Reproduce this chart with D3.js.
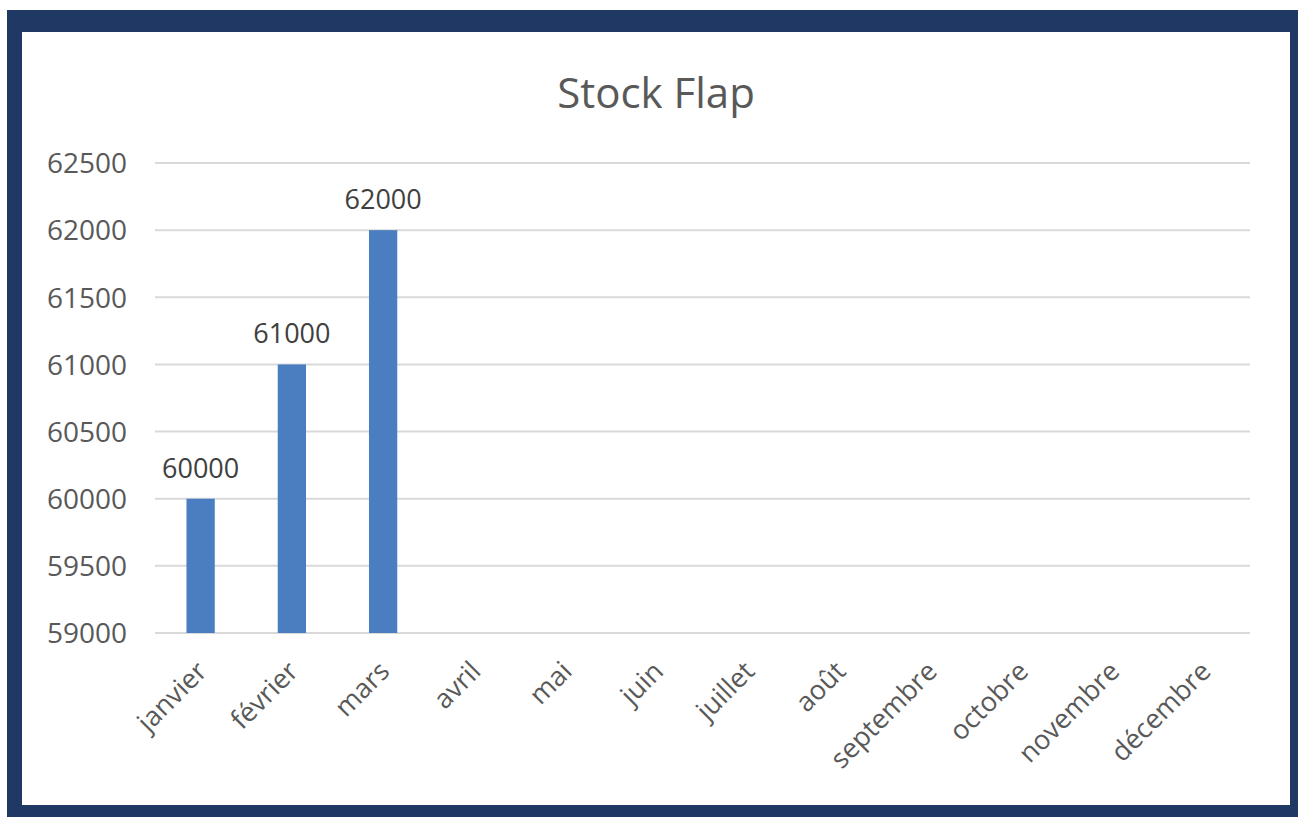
<!DOCTYPE html>
<html><head><meta charset="utf-8">
<script src="https://cdn.jsdelivr.net/npm/d3@7"></script>
<style>html,body{margin:0;padding:0;background:#fff;}svg{display:block;}</style>
</head><body>
<script>
const title = "Stock Flap";
const months = ["janvier","février","mars","avril","mai","juin","juillet","août","septembre","octobre","novembre","décembre"];
const stock = [60000, 61000, 62000, null, null, null, null, null, null, null, null, null];
const yTicks = [59000, 59500, 60000, 60500, 61000, 61500, 62000, 62500];

const W = 1298, H = 817;
const svg = d3.select("body").append("svg").attr("width", W).attr("height", H);
const font = "'Open Sans', sans-serif";

// navy frame
svg.append("rect").attr("x", 7).attr("y", 10).attr("width", W - 7).attr("height", H - 10).attr("fill", "#1f3864");
svg.append("rect").attr("x", 22).attr("y", 32).attr("width", 1268).attr("height", 773).attr("fill", "#ffffff");

const x = d3.scaleBand().domain(months).range([155, 1250]).paddingInner(0.69).paddingOuter(0.345);
const y = d3.scaleLinear().domain([59000, 62500]).range([633, 163]);

// gridlines
svg.append("g").selectAll("line").data(yTicks).join("line")
  .attr("x1", 155).attr("x2", 1250)
  .attr("y1", d => y(d)).attr("y2", d => y(d))
  .attr("stroke", "#d9d9d9").attr("stroke-width", 2);

// y axis labels
const yAxis = d3.axisLeft(y).tickValues(yTicks).tickSize(0).tickPadding(0).tickFormat(d3.format("d"));
const gy = svg.append("g").attr("transform", "translate(127,0)").call(yAxis);
gy.select(".domain").remove();
gy.selectAll("text").attr("font-family", font).attr("font-size", 28).attr("fill", "#595959").attr("dy", "0.35em");

// bars
const data = months.map((m, i) => ({m, v: stock[i]})).filter(d => d.v != null);
svg.append("g").selectAll("rect").data(data).join("rect")
  .attr("x", d => x(d.m)).attr("width", x.bandwidth())
  .attr("y", d => y(d.v)).attr("height", d => y(59000) - y(d.v))
  .attr("fill", "#4a7ec1");

// data labels
svg.append("g").selectAll("text").data(data).join("text")
  .attr("x", d => x(d.m) + x.bandwidth() / 2)
  .attr("y", d => y(d.v) - 21)
  .attr("text-anchor", "middle")
  .attr("font-family", font).attr("font-size", 27).attr("fill", "#404040")
  .text(d => d.v);

// x axis labels
const xAxis = d3.axisBottom(x).tickSize(0).tickPadding(0);
const gx = svg.append("g").attr("transform", "translate(0,633)").call(xAxis);
gx.select(".domain").remove();
gx.selectAll("text")
  .attr("font-family", font).attr("font-size", 27).attr("fill", "#595959")
  .attr("text-anchor", "end").attr("dy", null).attr("y", 0)
  .attr("transform", "translate(8,40) rotate(-45)");

// title
svg.append("text").attr("x", 656).attr("y", 108).attr("text-anchor", "middle")
  .attr("font-family", font).attr("font-size", 42).attr("fill", "#595959").text(title);
</script>
</body></html>
